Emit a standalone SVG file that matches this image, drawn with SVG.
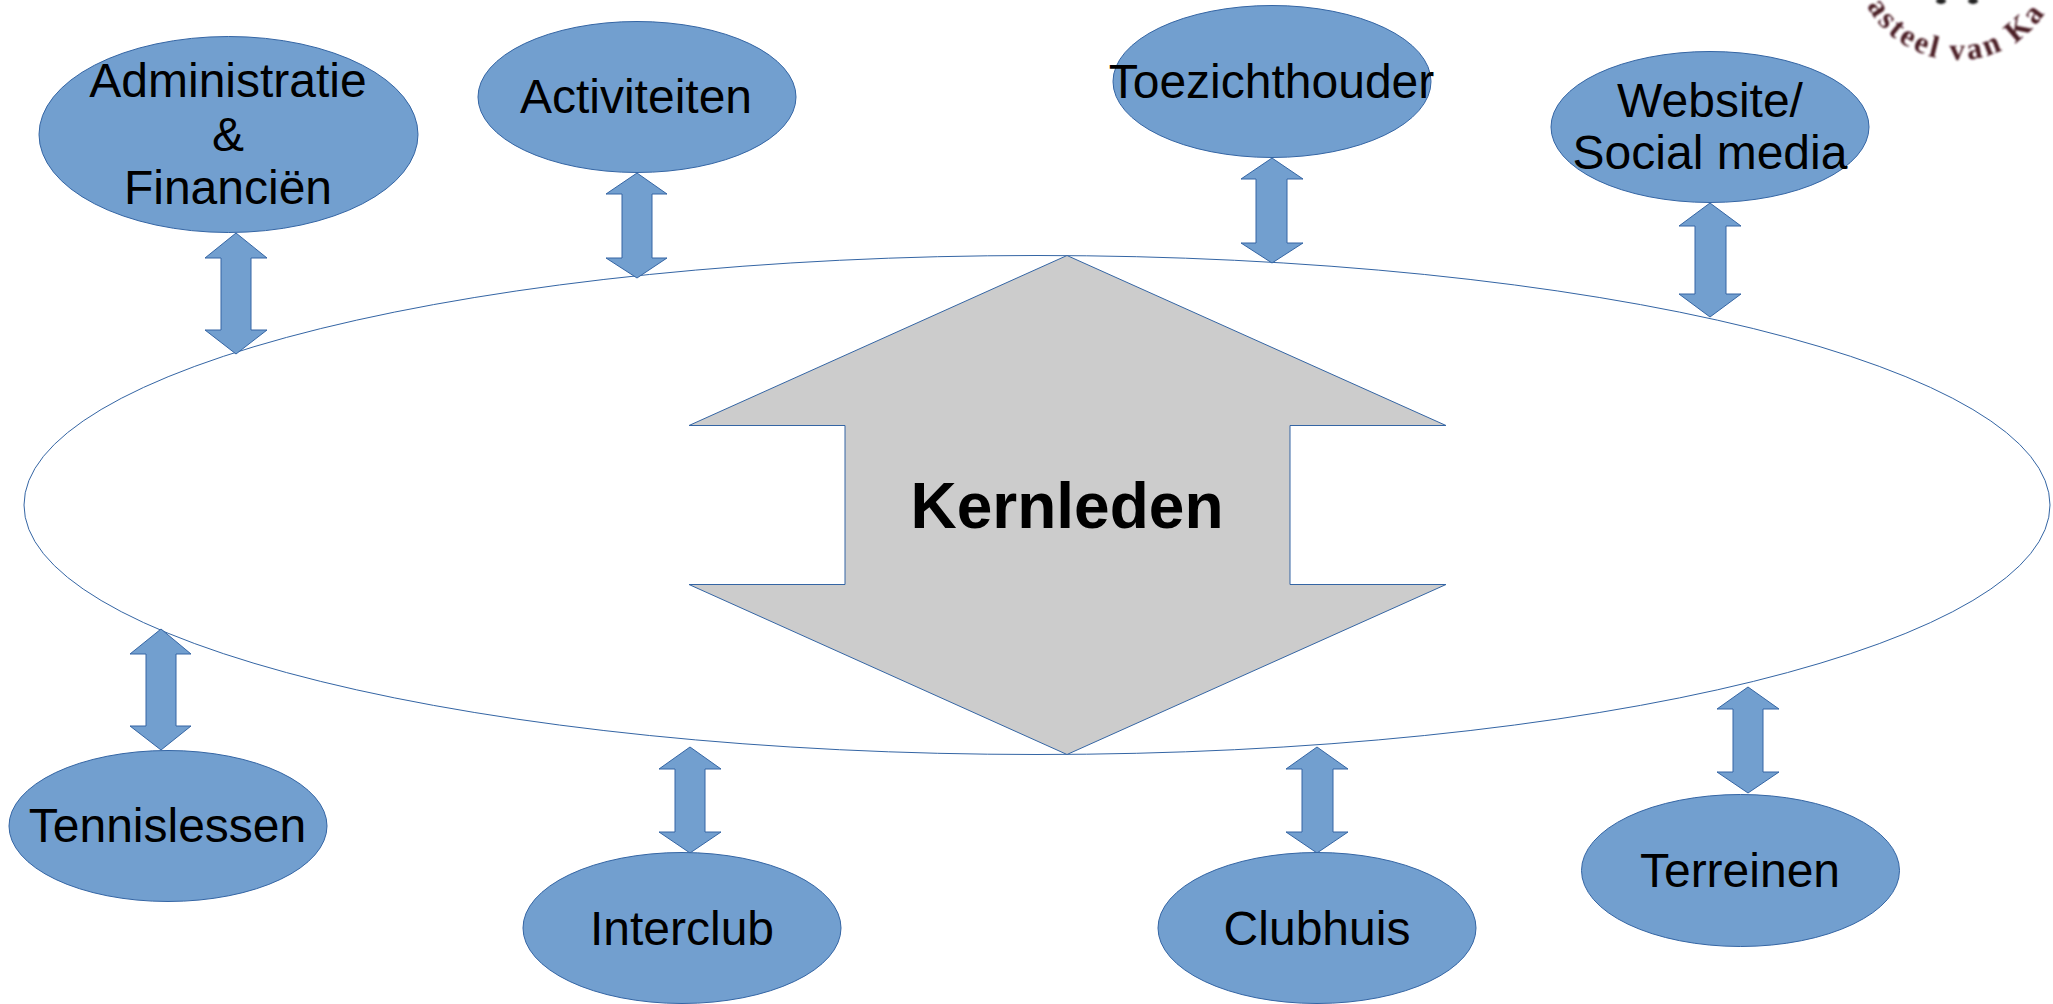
<svg xmlns="http://www.w3.org/2000/svg" width="2053" height="1004" viewBox="0 0 2053 1004">
<style>
.n{fill:#729fcf;stroke:#3465a4;stroke-width:1}
.t{font-family:"Liberation Sans",Arial,sans-serif;font-size:48px;fill:#000;text-anchor:middle}
.k{font-family:"Liberation Sans",Arial,sans-serif;font-size:64px;font-weight:700;fill:#000;text-anchor:middle}
.l{font-family:"Liberation Serif","Times New Roman",serif;font-size:31px;font-weight:700;letter-spacing:3px;fill:#4a1a24}
</style>
<defs>
<filter id="blur" x="-10%" y="-10%" width="120%" height="120%"><feGaussianBlur stdDeviation="0.8"/></filter>
<path id="logoArc" d="M1854,-44 A104,104 0 0 0 2062,-44"/>
</defs>
<rect width="2053" height="1004" fill="#fff"/>
<g id="logo" filter="url(#blur)">
<text class="l"><textPath href="#logoArc" startOffset="52">asteel van Ka</textPath></text>
<ellipse cx="1941" cy="1" rx="5" ry="3" fill="#222"/>
<ellipse cx="1973" cy="1" rx="5" ry="3" fill="#222"/>
</g>
<g id="kern-ring"><ellipse cx="1037" cy="505" rx="1013" ry="249.5" fill="#fff" stroke="#3465a4" stroke-width="1"/></g>
<g id="kernleden">
<polygon points="1067,255.5 1446,425.5 1290,425.5 1290,584.5 1446,584.5 1067,754.5 689,584.5 845,584.5 845,425.5 689,425.5" fill="#cccccc" stroke="#3465a4" stroke-width="1"/>
<text class="k" x="1067" y="528">Kernleden</text>
</g>
<g id="connectors">
<polygon class="n" points="236,233 267,258 251,258 251,330 267,330 236,354 205,330 221,330 221,258 205,258"/>
<polygon class="n" points="637,173 667,194 652,194 652,258 667,258 637,278 606,258 622,258 622,194 606,194"/>
<polygon class="n" points="1272,158 1303,179 1287,179 1287,243 1303,243 1272,263 1241,243 1256,243 1256,179 1241,179"/>
<polygon class="n" points="1710,203 1741,226 1726,226 1726,294 1741,294 1710,317 1679,294 1695,294 1695,226 1679,226"/>
<polygon class="n" points="161,629 191,654 176,654 176,726 191,726 161,750 130,726 146,726 146,654 130,654"/>
<polygon class="n" points="690,747 721,769 705,769 705,832 721,832 690,853 659,832 675,832 675,769 659,769"/>
<polygon class="n" points="1317,747 1348,769 1333,769 1333,832 1348,832 1317,853 1286,832 1302,832 1302,769 1286,769"/>
<polygon class="n" points="1748,687 1779,709 1763,709 1763,772 1779,772 1748,793 1717,772 1733,772 1733,709 1717,709"/>
</g>
<g id="administratie"><ellipse class="n" cx="228.5" cy="134.5" rx="189.5" ry="98"/>
<text class="t" x="228" y="97">Administratie</text><text class="t" x="228" y="151">&amp;</text><text class="t" x="228" y="204">Financiën</text></g>
<g id="activiteiten"><ellipse class="n" cx="637" cy="97" rx="159" ry="75.5"/><text class="t" x="636" y="113">Activiteiten</text></g>
<g id="toezichthouder"><ellipse class="n" cx="1272" cy="81.5" rx="159" ry="76"/><text class="t" x="1271.5" y="98">Toezichthouder</text></g>
<g id="website"><ellipse class="n" cx="1710" cy="127" rx="159" ry="75.5"/><text class="t" x="1710" y="117">Website/</text><text class="t" x="1710" y="169">Social media</text></g>
<g id="tennislessen"><ellipse class="n" cx="168" cy="826" rx="159" ry="75.5"/><text class="t" x="167.5" y="842">Tennislessen</text></g>
<g id="interclub"><ellipse class="n" cx="682" cy="928" rx="159" ry="75.5"/><text class="t" x="682" y="945">Interclub</text></g>
<g id="clubhuis"><ellipse class="n" cx="1317" cy="928" rx="159" ry="75.5"/><text class="t" x="1317" y="945">Clubhuis</text></g>
<g id="terreinen"><ellipse class="n" cx="1740.5" cy="870.5" rx="159" ry="76"/><text class="t" x="1740" y="887">Terreinen</text></g>
</svg>
